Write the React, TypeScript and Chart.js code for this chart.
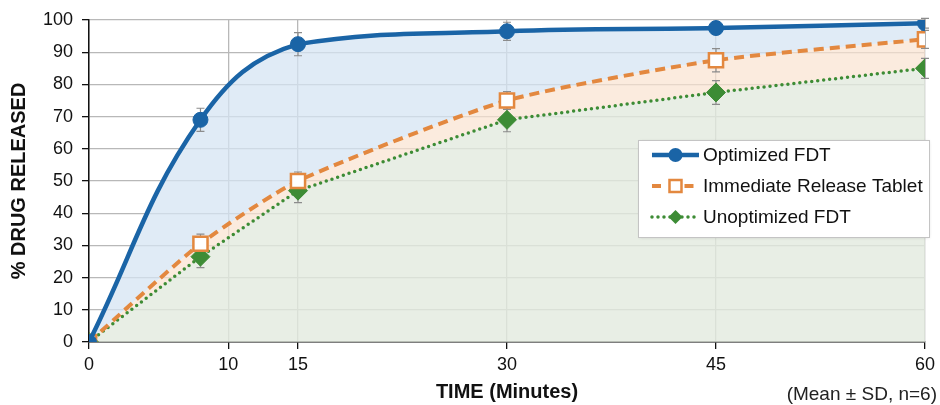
import React, { useEffect, useRef } from "react";
import { Chart, registerables } from "chart.js";

Chart.register(...registerables);

const timePoints = [0, 8, 15, 30, 45, 60];
const xTickValues = [0, 10, 15, 30, 45, 60];
const seriesLabels = ["Optimized FDT", "Immediate Release Tablet", "Unoptimized FDT"];
const optimized = [0, 69, 92.5, 96.5, 97.5, 99];
const optimizedSD = [0, 3.6, 3.6, 2.8, 2, 1.5];
const immediate = [0, 30.5, 50, 75, 87.5, 94];
const immediateSD = [0, 3, 2.8, 2.8, 3.6, 2.8];
const unoptimized = [0, 26.5, 47, 69, 77.5, 85];
const unoptimizedSD = [0, 3.4, 3.7, 3.7, 3.7, 3.1];
const yAxisTitle = "% DRUG RELEASED";
const xAxisTitle = "TIME (Minutes)";
const footNote = "(Mean \u00b1 SD, n=6)";

const FONT = "'Liberation Sans', Arial, Helvetica, sans-serif";
const BLUE = "#1a64a6";
const ORANGE = "#e3883f";
const GREEN = "#3d8c35";

const sdLists = [optimizedSD, immediateSD, unoptimizedSD];

// keep smoothed curves from overshooting the next point (like the spreadsheet smoothing)
const smoothClampPlugin = {
  id: "smoothClamp",
  beforeDraw(chart: any) {
    chart.data.datasets.forEach((_ds: any, di: number) => {
      const meta = chart.getDatasetMeta(di);
      const line = meta.dataset;
      if (!line || !line.updateControlPoints) return;
      line.updateControlPoints(chart.chartArea, "x");
      const pts = meta.data;
      for (let i = 0; i < pts.length - 1; i++) {
        const p = pts[i];
        const n = pts[i + 1];
        const lo = Math.min(p.y, n.y);
        const hi = Math.max(p.y, n.y);
        p.cp2y = Math.min(Math.max(p.cp2y, lo), hi);
        n.cp1y = Math.min(Math.max(n.cp1y, lo), hi);
      }
    });
  },
};

const errorBarPlugin = {
  id: "errorBars",
  beforeDatasetsDraw(chart: any) {
    const ctx = chart.ctx;
    const xs = chart.scales.x;
    const ys = chart.scales.y;
    ctx.save();
    ctx.strokeStyle = "#8c8c8c";
    ctx.lineWidth = 1.2;
    chart.data.datasets.forEach((ds: any, di: number) => {
      const sds = sdLists[di];
      ds.data.forEach((pt: any, i: number) => {
        const sd = sds[i];
        if (!sd) return;
        const x = xs.getPixelForValue(pt.x);
        const yTop = ys.getPixelForValue(pt.y + sd);
        const yBot = ys.getPixelForValue(pt.y - sd);
        ctx.beginPath();
        ctx.moveTo(x, yTop);
        ctx.lineTo(x, yBot);
        ctx.moveTo(x - 4, yTop);
        ctx.lineTo(x + 4, yTop);
        ctx.moveTo(x - 4, yBot);
        ctx.lineTo(x + 4, yBot);
        ctx.stroke();
      });
    });
    ctx.restore();
  },
};

const legendPlugin = {
  id: "customLegend",
  afterDraw(chart: any) {
    const ctx = chart.ctx;
    const ca = chart.chartArea;
    const bx = ca.right - 287;
    const by = ca.top + 120;
    const bw = 291;
    const bh = 97;
    ctx.save();
    ctx.shadowColor = "rgba(0,0,0,0.12)";
    ctx.shadowBlur = 3;
    ctx.shadowOffsetX = 1;
    ctx.shadowOffsetY = 1;
    ctx.fillStyle = "#ffffff";
    ctx.fillRect(bx, by, bw, bh);
    ctx.shadowColor = "transparent";
    ctx.strokeStyle = "#c4c4c4";
    ctx.lineWidth = 1;
    ctx.strokeRect(bx + 0.5, by + 0.5, bw, bh);

    const x0 = bx + 14;
    const x1 = bx + 61;
    const xm = (x0 + x1) / 2;
    const rows = [by + 15, by + 46, by + 77];
    chart.data.datasets.forEach((ds: any, i: number) => {
      const y = rows[i];
      ctx.save();
      ctx.strokeStyle = ds.borderColor;
      ctx.lineWidth = i === 0 ? 4.5 : i === 1 ? 4 : 3.5;
      ctx.lineCap = i === 2 ? "round" : "butt";
      if (i === 1) ctx.setLineDash([9, 6]);
      if (i === 2) ctx.setLineDash([0, 6]);
      ctx.beginPath();
      if (i === 1) {
        ctx.moveTo(x0, y);
        ctx.lineTo(xm - 9, y);
        ctx.moveTo(xm + 9, y);
        ctx.lineTo(x1, y);
      } else {
        ctx.moveTo(x0, y);
        ctx.lineTo(x1, y);
      }
      ctx.stroke();
      ctx.setLineDash([]);
      if (i === 0) {
        ctx.fillStyle = BLUE;
        ctx.beginPath();
        ctx.arc(xm, y, 7, 0, Math.PI * 2);
        ctx.fill();
      } else if (i === 1) {
        ctx.fillStyle = "#fff";
        ctx.strokeStyle = ORANGE;
        ctx.lineWidth = 2.5;
        ctx.fillRect(xm - 6, y - 6, 12, 12);
        ctx.strokeRect(xm - 6, y - 6, 12, 12);
      } else {
        ctx.fillStyle = GREEN;
        ctx.beginPath();
        ctx.moveTo(xm, y - 7);
        ctx.lineTo(xm + 7, y);
        ctx.lineTo(xm, y + 7);
        ctx.lineTo(xm - 7, y);
        ctx.closePath();
        ctx.fill();
      }
      ctx.restore();
      ctx.fillStyle = "#111";
      ctx.font = "19px " + FONT;
      ctx.textBaseline = "middle";
      ctx.textAlign = "left";
      ctx.fillText(ds.label, x1 + 4, y + 1);
    });
    ctx.restore();

    ctx.save();
    ctx.fillStyle = "#222";
    ctx.font = "19px " + FONT;
    ctx.textAlign = "right";
    ctx.textBaseline = "middle";
    ctx.fillText(footNote, chart.width - 3, 395);
    ctx.restore();
  },
};

const toPts = (vals: number[]) => vals.map((v, i) => ({ x: timePoints[i], y: v }));

export default function App() {
  const ref = useRef<HTMLCanvasElement | null>(null);

  useEffect(() => {
    if (!ref.current) return;
    const chart = new Chart(ref.current, {
      type: "line",
      data: {
        datasets: [
          {
            label: seriesLabels[0],
            data: toPts(optimized),
            borderColor: BLUE,
            backgroundColor: "rgba(214,228,243,0.75)",
            borderWidth: 4.5,
            tension: 0.4,
            pointStyle: "circle",
            pointRadius: 7.5,
            pointBackgroundColor: BLUE,
            pointBorderColor: BLUE,
            pointBorderWidth: 1,
            fill: "+1",
          },
          {
            label: seriesLabels[1],
            data: toPts(immediate),
            borderColor: ORANGE,
            backgroundColor: "rgba(250,226,208,0.7)",
            borderWidth: 4,
            borderDash: [10, 6],
            tension: 0.2,
            pointStyle: "rect",
            pointRadius: 10,
            pointBackgroundColor: "#ffffff",
            pointBorderColor: ORANGE,
            pointBorderWidth: 2.5,
            fill: "+1",
          },
          {
            label: seriesLabels[2],
            data: toPts(unoptimized),
            borderColor: GREEN,
            backgroundColor: "rgba(226,234,222,0.8)",
            borderWidth: 3.5,
            borderDash: [0, 6],
            borderCapStyle: "round",
            tension: 0,
            pointStyle: "rectRot",
            pointRadius: 9.5,
            pointBackgroundColor: GREEN,
            pointBorderColor: GREEN,
            pointBorderWidth: 1,
            fill: "origin",
          },
        ],
      },
      options: {
        animation: false,
        responsive: false,
        devicePixelRatio: 1,
        layout: { padding: { top: 20, right: 14, left: 0, bottom: 0 } },
        plugins: {
          legend: { display: false },
          tooltip: { enabled: false },
          filler: { drawTime: "beforeDatasetsDraw" },
        },
        scales: {
          x: {
            type: "linear",
            min: 0,
            max: 60,
            afterBuildTicks: (s: any) => {
              s.ticks = xTickValues.map((v) => ({ value: v }));
            },
            afterFit: (s: any) => {
              s.height = 63;
            },
            ticks: {
              color: "#111",
              font: { family: FONT, size: 18 },
              padding: 5,
              maxRotation: 0,
              autoSkip: false,
            },
            grid: { color: "#b8b8b8", lineWidth: 1.3, tickColor: "#111", tickLength: 7 },
            border: { color: "#111", width: 1.5 },
            title: {
              display: true,
              text: xAxisTitle,
              color: "#111",
              font: { family: FONT, size: 20, weight: "bold" },
              padding: { top: 0, bottom: 1 },
            },
          },
          y: {
            min: 0,
            max: 100,
            ticks: {
              stepSize: 10,
              color: "#111",
              font: { family: FONT, size: 18 },
              padding: 9,
            },
            afterFit: (s: any) => {
              s.width = 89;
            },
            grid: { color: "#b8b8b8", lineWidth: 1.3, tickColor: "#111", tickLength: 7 },
            border: { color: "#111", width: 1.5 },
            title: {
              display: true,
              text: yAxisTitle,
              color: "#111",
              font: { family: FONT, size: 20, weight: "bold" },
              padding: { top: 7, bottom: 0 },
            },
          },
        },
      },
      plugins: [smoothClampPlugin, errorBarPlugin, legendPlugin],
    } as any);
    return () => chart.destroy();
  }, []);

  return (
    <div style={{ position: "fixed", left: 0, top: 0, width: 940, height: 405, background: "#fff" }}>
      <canvas ref={ref} width={940} height={405} style={{ width: 940, height: 405, display: "block" }} />
    </div>
  );
}
